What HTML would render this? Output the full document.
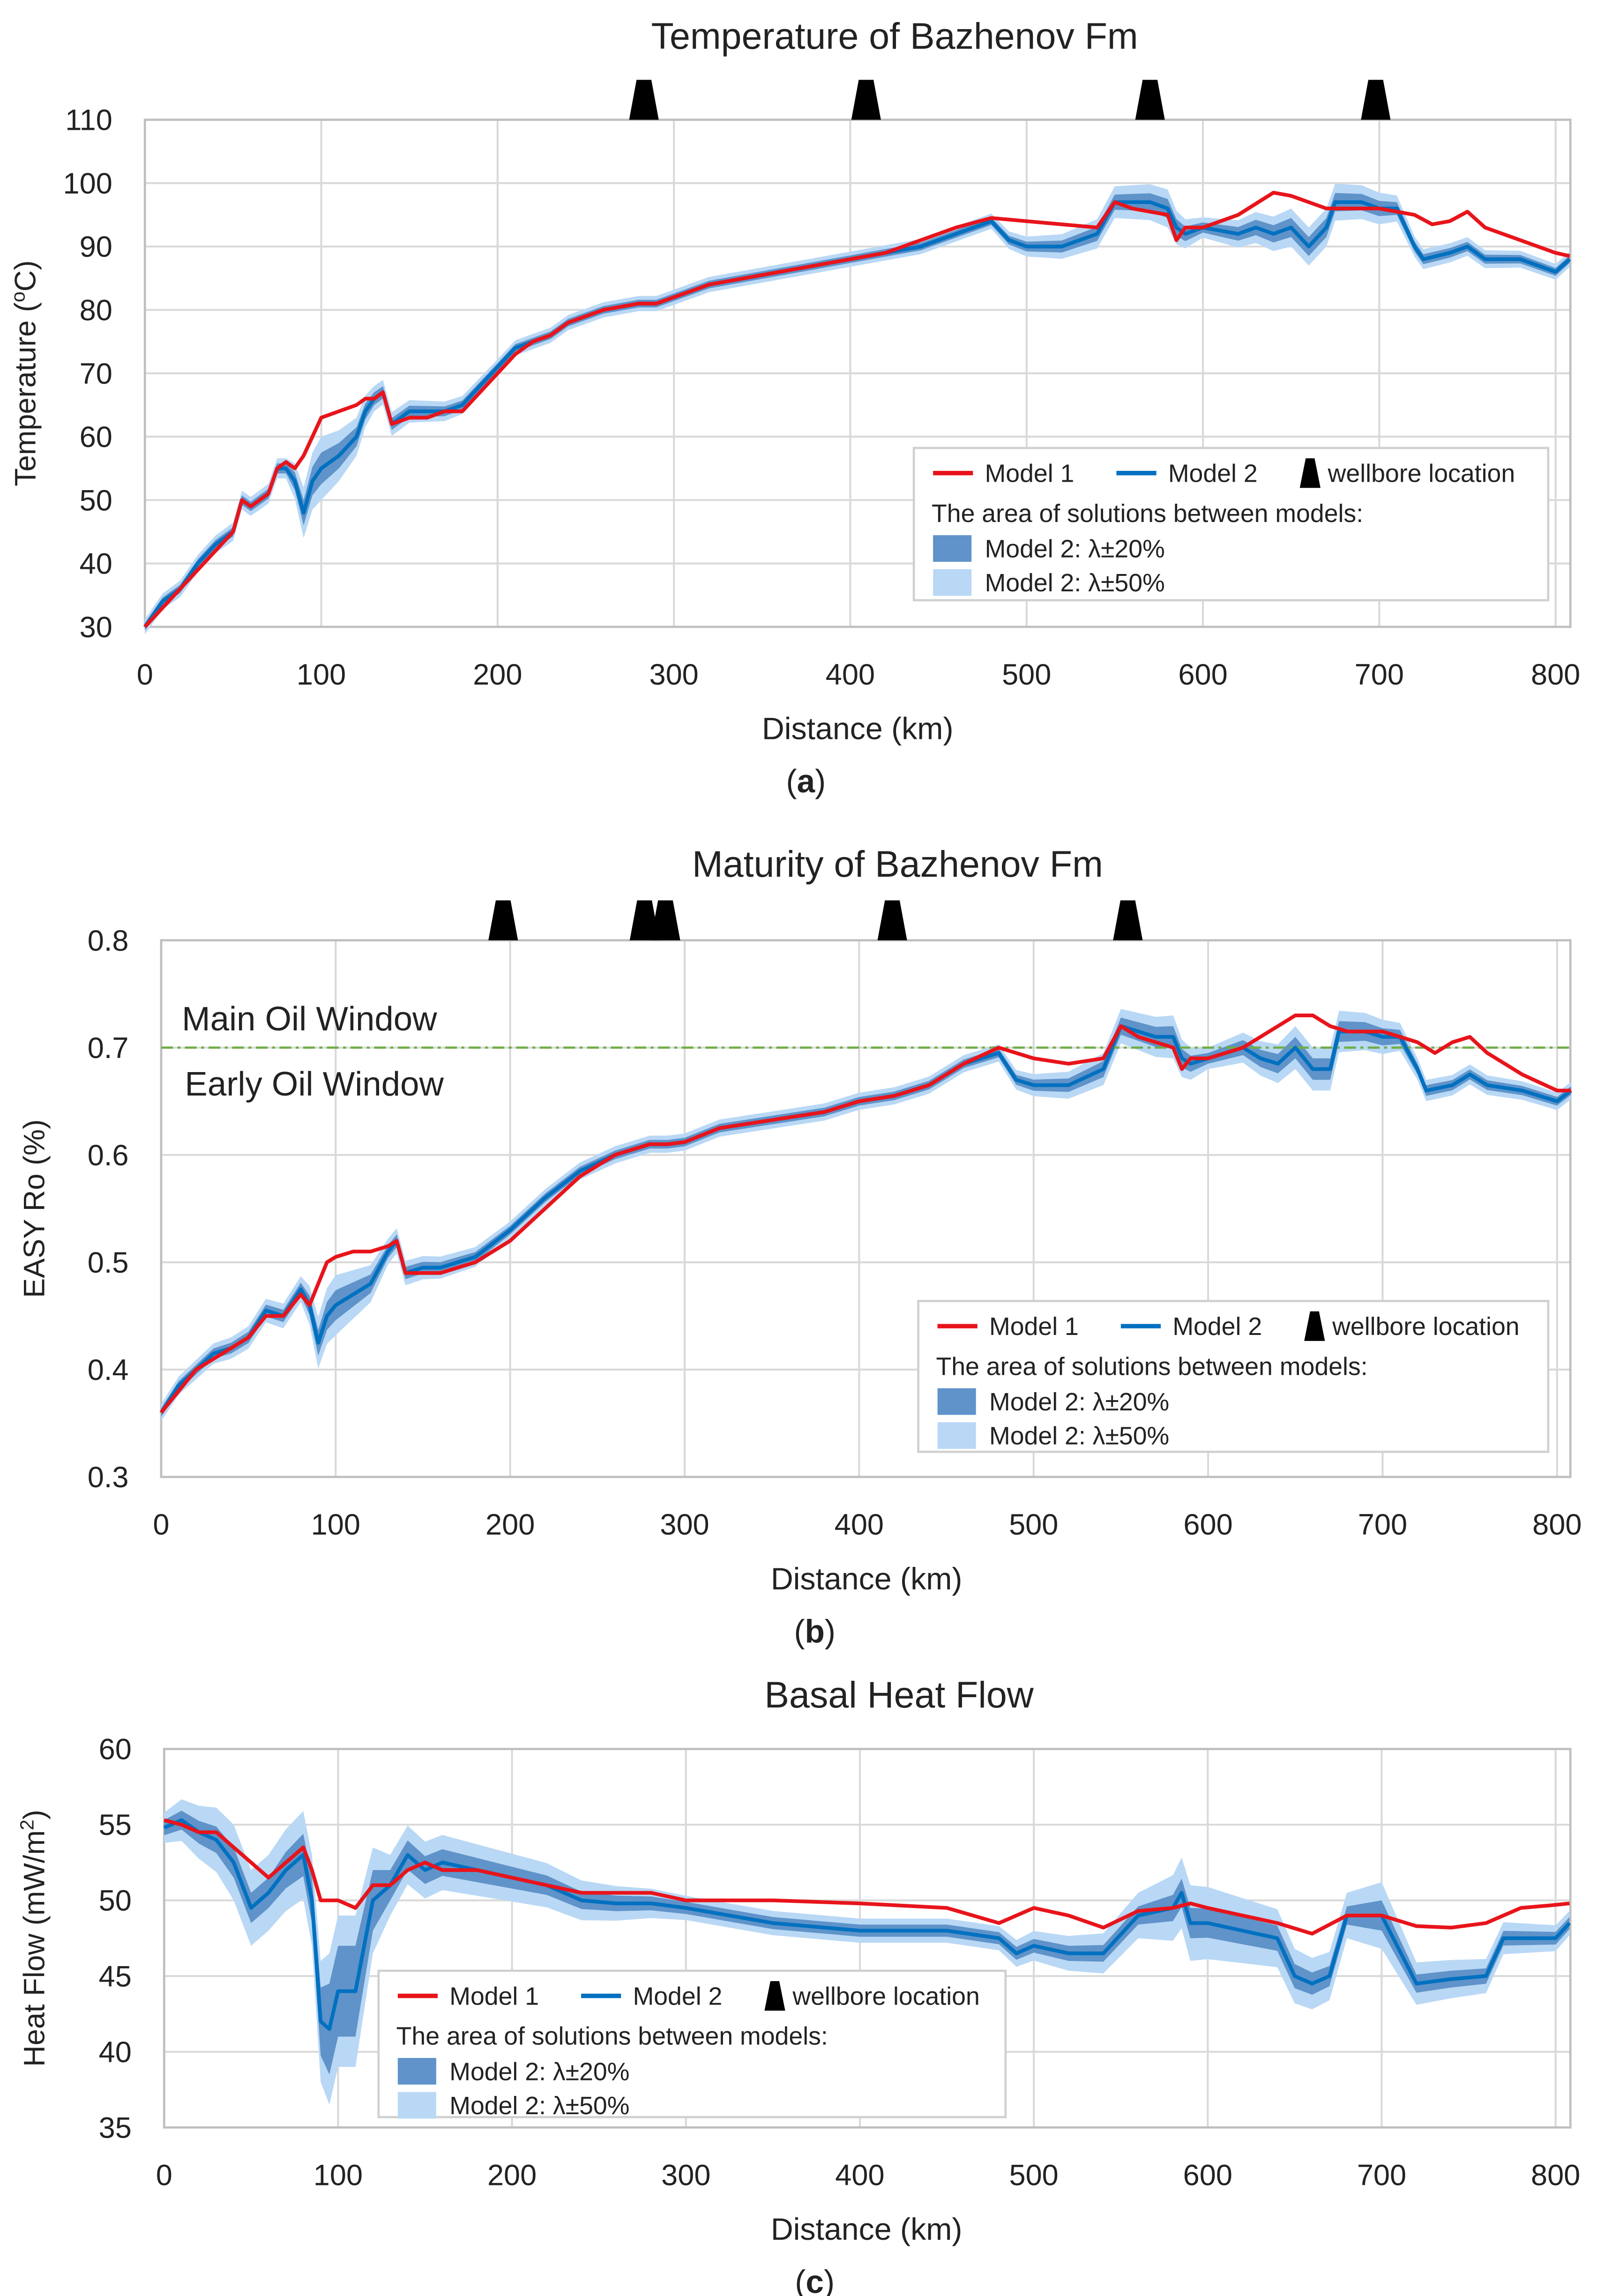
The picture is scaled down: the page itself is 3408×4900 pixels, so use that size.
<!DOCTYPE html>
<html><head><meta charset="utf-8">
<style>
html,body{margin:0;padding:0;background:#fff;}
svg{display:block;}
text{font-family:"Liberation Sans",sans-serif;fill:#222;}
</style></head>
<body>
<svg id="root" xmlns="http://www.w3.org/2000/svg" width="3408" height="4900" viewBox="0 0 1080 1553" preserveAspectRatio="none"></svg>
<script>
// ---------- Chart (a) Temperature ----------
const aM1Km=[0,10,20,30,40,50,55,60,65,70,75,80,85,90,95,100,110,120,125,130,135,140,150,160,170,180,190,200,210,220,230,240,250,260,270,280,290,300,320,340,360,380,400,420,440,460,480,500,520,540,550,560,580,585,590,600,620,640,650,660,670,680,700,720,730,740,750,760,780,800,808];
const aM1Val=[30,33,36,39,42,45,50,49,50,51,55,56,55,57,60,63,64,65,66,66,67,62,63,63,64,64,67,70,73,75,76,78,79,80,80.5,81,81,82,84,85,86,87,88,89,91,93,94.5,94,93.5,93,97,96,95,91,93,93,95,98.5,98,97,96,96,96,95,93.5,94,95.5,93,91,89,88.5];
const aM2Km=[0,10,20,30,40,50,55,60,65,70,75,80,85,90,95,100,110,120,125,130,135,140,150,160,170,180,190,200,210,220,230,240,250,260,270,280,290,300,320,340,360,380,400,420,440,460,480,490,500,520,540,550,570,580,585,590,600,620,630,640,650,660,670,675,690,700,710,720,725,740,750,760,780,800,808];
const aM2Val=[30,34,36,40,43,45,50,49,50,51,55,55,53,48,53,55,57,60,64,66,67,62,64,64,64,65,68,71,74,75,76,78,79,80,80.5,81,81,82,84,85,86,87,88,89,90,92,94,91,90,90,92,97,97,96,93,92,93,92,93,92,93,90,93,97,97,96,96,90,88,89,90,88,88,86,88];
const aBandKm=[0,80,90,100,130,200,480,550,580,600,650,670,700,720,808];
const aBand20=[0.6,0.8,2,2.5,1,0.6,0.6,1.2,1.5,0.8,1.5,1.5,1.2,0.8,0.6];
const aBand50=[1.2,1.6,4,5,2,1.2,1.2,2.5,3,1.6,3,3,2.5,1.6,1.2];
const aYTicks=[30,40,50,60,70,80,90,100,110];
const aXTicks=[0,100,200,300,400,500,600,700,800];
const aWells=[283,409,570,698];

// ---------- Chart (b) Maturity ----------
const bM1Km=[0,10,20,30,40,50,60,70,80,85,90,95,100,110,120,130,135,140,150,160,180,200,220,240,260,280,290,300,320,340,360,380,400,420,440,460,480,500,520,540,550,560,580,585,590,600,620,640,650,660,670,680,700,720,730,740,750,760,780,800,808];
const bM1Val=[.36,.38,.40,.41,.42,.43,.45,.45,.47,.46,.48,.50,.505,.51,.51,.515,.52,.49,.49,.49,.50,.52,.55,.58,.60,.61,.61,.612,.625,.63,.635,.64,.65,.655,.665,.685,.70,.69,.685,.69,.72,.71,.70,.68,.69,.69,.70,.72,.73,.73,.72,.715,.715,.705,.695,.705,.71,.695,.675,.66,.66];
const bM2Km=[0,10,20,30,40,50,60,70,80,85,90,95,100,110,120,130,135,140,150,160,180,200,220,240,260,280,290,300,320,340,360,380,400,420,440,460,480,490,500,520,540,550,570,580,585,590,600,620,630,640,650,660,670,675,690,700,710,720,725,740,750,760,780,800,808];
const bM2Val=[.36,.385,.40,.415,.42,.43,.455,.45,.475,.46,.425,.45,.46,.47,.48,.51,.52,.49,.495,.495,.505,.53,.56,.585,.60,.61,.61,.612,.625,.63,.635,.64,.65,.655,.665,.685,.695,.67,.665,.665,.68,.72,.71,.71,.69,.685,.69,.70,.69,.685,.70,.68,.68,.715,.715,.71,.71,.68,.66,.665,.675,.665,.66,.65,.66];
const bBandKm=[0,80,90,100,130,200,480,550,580,600,650,670,700,720,808];
const bBand20=[.004,.006,.012,.014,.006,.004,.004,.008,.01,.005,.01,.01,.008,.005,.004];
const bBand50=[.008,.012,.024,.028,.012,.008,.008,.016,.02,.01,.02,.02,.016,.01,.008];
const bYTicks=[0.3,0.4,0.5,0.6,0.7,0.8];
const bXTicks=[0,100,200,300,400,500,600,700,800];
const bWells=[196,277,289,419,554];

// ---------- Chart (c) Heat flow ----------
const cM1Km=[0,10,20,30,40,50,60,70,80,85,90,100,110,120,130,140,150,160,180,200,220,240,260,280,300,350,400,450,480,500,520,540,560,580,590,600,620,640,660,680,700,720,740,760,780,800,808];
const cM1Val=[55.3,55,54.5,54.5,53.5,52.5,51.5,52.5,53.5,52,50,50,49.5,51,51,52,52.5,52,52,51.5,51,50.5,50.5,50.5,50,50,49.8,49.5,48.5,49.5,49,48.2,49.3,49.5,49.8,49.5,49,48.5,47.8,49,49,48.3,48.2,48.5,49.5,49.7,49.8];
const cM2Km=[0,10,20,30,40,50,60,70,80,85,90,95,100,110,120,130,140,150,160,180,200,220,240,260,280,300,350,400,450,480,490,500,520,540,560,580,585,590,600,620,640,650,660,670,680,700,720,740,760,770,780,800,808];
const cM2Val=[54.8,55.3,54.5,54,52.5,49.5,50.5,52,53,50,42,41.5,44,44,50,51,53,52,52.5,52,51.5,51,50,49.8,49.8,49.5,48.5,48,48,47.5,46.5,47,46.5,46.5,49,49.5,50.5,48.5,48.5,48,47.5,45,44.5,45,49,49,44.5,44.8,45,47.5,47.5,47.5,48.5];
const cBandKm=[0,40,60,85,95,110,130,230,300,480,560,590,650,680,700,720,808];
const cBand20=[0.5,1,1,1.5,3,3,1,0.6,0.4,0.4,0.6,1,0.8,0.6,1,0.6,0.4];
const cBand50=[1,2.5,2.5,3,5,5,2,1.4,0.8,0.8,1.5,2.5,1.8,1.5,2.2,1.4,0.8];
const cYTicks=[35,40,45,50,55,60];
const cXTicks=[0,100,200,300,400,500,600,700,800];
const cWells=[];

const NS='http://www.w3.org/2000/svg';
const root=document.getElementById('root');
function mk(tag,attrs,parent){const e=document.createElementNS(NS,tag);for(const k in attrs)e.setAttribute(k,attrs[k]);(parent||root).appendChild(e);return e;}
function interp(xs,ys,x){if(x<=xs[0])return ys[0];for(let i=1;i<xs.length;i++){if(x<=xs[i]){const t=(x-xs[i-1])/(xs[i]-xs[i-1]);return ys[i-1]+t*(ys[i]-ys[i-1]);}}return ys[ys.length-1];}

function chart(c){
  const g=mk('g',{});
  
  
  const X=v=>c.x0+(c.x800-c.x0)*v/800;
  const Y=v=>c.bot+(c.top-c.bot)*(v-c.yMin)/(c.yMax-c.yMin);
  // grid
  c.yTicks.forEach(t=>{
    const l=mk('line',{x1:c.left,x2:c.right,y1:Y(t),y2:Y(t),stroke:'#d9d9d9','stroke-width':1.3},g);
    
    const tx=mk('text',{x:c.left-22,y:Y(t)+7,'text-anchor':'end','font-size':20},g);tx.textContent=c.fmt(t);
    
  });
  c.xTicks.forEach(t=>{
    const l=mk('line',{x1:X(t),x2:X(t),y1:c.top,y2:c.bot,stroke:'#d9d9d9','stroke-width':1.3},g);
    
    const tx=mk('text',{x:X(t),y:c.bot+39,'text-anchor':'middle','font-size':20},g);tx.textContent=t;
    
  });
  const fr=mk('rect',{x:c.left,y:c.top,width:c.right-c.left,height:c.bot-c.top,fill:'none',stroke:'#bfbfbf','stroke-width':1.5},g);
  
  // bands
  function band(widths,color,name){
    const up=c.m2Km.map((k,i)=>X(k)+','+Y(c.m2Val[i]+interp(c.bandKm,widths,k)));
    const dn=c.m2Km.map((k,i)=>X(k)+','+Y(c.m2Val[i]-interp(c.bandKm,widths,k))).reverse();
    const p=mk('polygon',{points:up.concat(dn).join(' '),fill:color},g);
    
  }
  band(c.b50,'#b9d8f5','band-lambda-50');
  band(c.b20,'#5f93c9','band-lambda-20');
  if(c.hline!==undefined){
    const l=mk('line',{x1:c.left,x2:c.right,y1:Y(c.hline),y2:Y(c.hline),stroke:'#70ad47','stroke-width':1.5,'stroke-dasharray':'8,3,2,3'},g);
    
  }
  const l2=mk('polyline',{points:c.m2Km.map((k,i)=>X(k)+','+Y(c.m2Val[i])).join(' '),fill:'none',stroke:'#0070c0','stroke-width':2.5,'stroke-linejoin':'round'},g);
  
  const l1=mk('polyline',{points:c.m1Km.map((k,i)=>X(k)+','+Y(c.m1Val[i])).join(' '),fill:'none',stroke:'#e8141b','stroke-width':2.5,'stroke-linejoin':'round'},g);
  
  c.wells.forEach(w=>{
    const x=X(w);
    const p=mk('polygon',{points:`${x-10},${c.top} ${x+10},${c.top} ${x+5},${c.top-27} ${x-5},${c.top-27}`,fill:'#000'},g);
    
  });
  // titles
  const t=mk('text',{x:c.titleX,y:c.titleY,'text-anchor':'middle','font-size':25},g);t.textContent=c.title;
  
  const xt=mk('text',{x:c.xTitleX,y:c.bot+76,'text-anchor':'middle','font-size':21},g);xt.textContent='Distance (km)';
  
  const yt=mk('text',{x:0,y:0,'text-anchor':'middle','font-size':20,transform:`translate(${c.yTitleX},${(c.top+c.bot)/2}) rotate(-90)`},g);
  if(c.yTitleHtml){yt.innerHTML=c.yTitleHtml;}else yt.textContent=c.yTitle;
  
  const pl=mk('text',{x:c.xTitleX-35,y:c.bot+112,'text-anchor':'middle','font-size':22,'font-family':'Liberation Serif'},g);
  pl.innerHTML='(<tspan font-weight="bold">'+c.panel+'</tspan>)';
  
  // legend
  const L=c.leg;
  const lg=mk('g',{},g);
  mk('rect',{x:L.x,y:L.y,width:L.w,height:L.h,fill:'#fff',stroke:'#d0d0d0','stroke-width':1.5},lg);
  const r1=L.y+23;
  mk('line',{x1:L.x+13,x2:L.x+40,y1:r1-6,y2:r1-6,stroke:'#e8141b','stroke-width':3},lg);
  let e=mk('text',{x:L.x+48,y:r1,'font-size':17},lg);e.textContent='Model 1';
  mk('line',{x1:L.x+137,x2:L.x+164,y1:r1-6,y2:r1-6,stroke:'#0070c0','stroke-width':3},lg);
  e=mk('text',{x:L.x+172,y:r1,'font-size':17},lg);e.textContent='Model 2';
  mk('polygon',{points:`${L.x+261},${r1+4} ${L.x+275},${r1+4} ${L.x+271},${r1-16} ${L.x+265},${r1-16}`,fill:'#000'},lg);
  e=mk('text',{x:L.x+280,y:r1,'font-size':17},lg);e.textContent='wellbore location';
  e=mk('text',{x:L.x+12,y:r1+27,'font-size':17},lg);e.textContent='The area of solutions between models:';
  mk('rect',{x:L.x+13,y:r1+36,width:26,height:18,fill:'#5f93c9'},lg);
  e=mk('text',{x:L.x+48,y:r1+51,'font-size':17},lg);e.textContent='Model 2: λ±20%';
  mk('rect',{x:L.x+13,y:r1+59,width:26,height:18,fill:'#b9d8f5'},lg);
  e=mk('text',{x:L.x+48,y:r1+74,'font-size':17},lg);e.textContent='Model 2: λ±50%';
  if(c.extra)c.extra(g,Y);
}

chart({name:'temperature-chart',left:98,right:1062,top:81,bot:424,x0:98,x800:1052,yMin:30,yMax:110,
  yTicks:aYTicks,xTicks:aXTicks,fmt:v=>v,m1Km:aM1Km,m1Val:aM1Val,m2Km:aM2Km,m2Val:aM2Val,bandKm:aBandKm,b20:aBand20,b50:aBand50,
  wells:aWells,title:'Temperature of Bazhenov Fm',titleX:605,titleY:33,xTitleX:580,yTitleX:24,
  yTitleHtml:'Temperature (<tspan baseline-shift="super" font-size="13">o</tspan>C)',panel:'a',
  leg:{x:618,y:303,w:429,h:103}});

chart({name:'maturity-chart',left:109,right:1062,top:636,bot:999,x0:109,x800:1053,yMin:0.3,yMax:0.8,
  yTicks:bYTicks,xTicks:bXTicks,fmt:v=>v.toFixed(1),m1Km:bM1Km,m1Val:bM1Val,m2Km:bM2Km,m2Val:bM2Val,bandKm:bBandKm,b20:bBand20,b50:bBand50,
  wells:bWells,title:'Maturity of Bazhenov Fm',titleX:607,titleY:593,xTitleX:586,yTitleX:30,yTitle:'EASY Ro (%)',panel:'b',hline:0.7,
  leg:{x:621,y:880,w:426,h:102},
  extra:(g)=>{let t=mk('text',{x:123,y:697,'font-size':23},g);t.textContent='Main Oil Window';
    
    t=mk('text',{x:125,y:741,'font-size':23},g);t.textContent='Early Oil Window';
    }});

chart({name:'heat-flow-chart',left:111,right:1062,top:1183,bot:1439,x0:111,x800:1052,yMin:35,yMax:60,
  yTicks:cYTicks,xTicks:cXTicks,fmt:v=>v,m1Km:cM1Km,m1Val:cM1Val,m2Km:cM2Km,m2Val:cM2Val,bandKm:cBandKm,b20:cBand20,b50:cBand50,
  wells:cWells,title:'Basal Heat Flow',titleX:608,titleY:1155,xTitleX:586,yTitleX:30,
  yTitleHtml:'Heat Flow (mW/m<tspan baseline-shift="super" font-size="13">2</tspan>)',panel:'c',
  leg:{x:256,y:1333,w:424,h:99}});
</script>
</body></html>
